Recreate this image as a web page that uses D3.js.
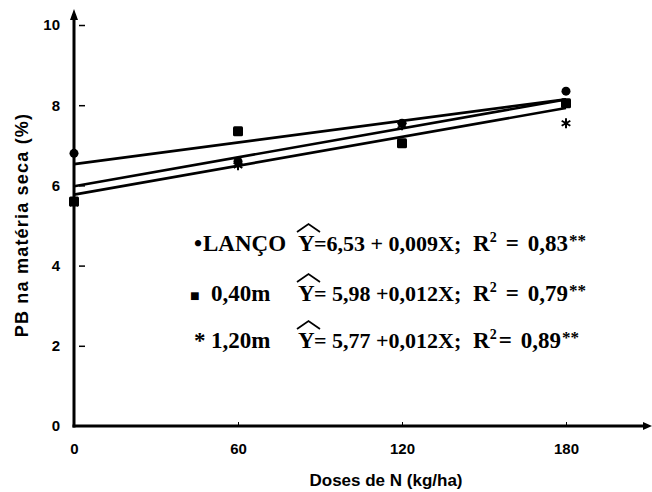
<!DOCTYPE html>
<html>
<head>
<meta charset="utf-8">
<script src="https://cdn.jsdelivr.net/npm/d3@7"></script>
<style>
  body { margin: 0; background: #fff; }
  svg { display: block; }
</style>
</head>
<body>
<svg id="chart" width="652" height="492"></svg>
<script>
// Doses de N (kg/ha) and crude protein (%) per sowing treatment
const doses = [0, 60, 120, 180];
const xTicks = [0, 60, 120, 180];
const yTicks = [0, 2, 4, 6, 8, 10];

const lanco = [6.8, 6.6, 7.55, 8.35];
const m040 = [5.6, 7.35, 7.05, 8.05];
const m120 = [5.55, 6.5, 7.5, 7.55];

// Fitted linear models: Y = a + bX
const treatments = ["LANÇO", "0,40m", "1,20m"];
const intercepts = [6.53, 5.98, 5.77];
const slopes = [0.009, 0.012, 0.012];
const eqLabels = ["=6,53 + 0,009X;", "= 5,98 +0,012X;", "= 5,77 +0,012X;"];
const r2Values = ["0,83", "0,79", "0,89"];
const legendGlyphs = ["\u2022", "\u25A0", "*"];

const svg = d3.select("#chart");
const sans = "'Liberation Sans', Arial, sans-serif";
const serif = "'Liberation Serif', 'Times New Roman', serif";

const x = d3.scaleLinear().domain([0, 180]).range([74, 566]);
const y = d3.scaleLinear().domain([0, 10]).range([426, 25]);

// y axis
const yAxis = svg.append("g")
  .attr("transform", `translate(${x(0)},0)`)
  .call(d3.axisLeft(y).tickValues(yTicks).tickSizeInner(-9).tickSizeOuter(0).tickPadding(14).tickFormat(d3.format("d")));
yAxis.select(".domain").remove();
yAxis.selectAll(".tick line").attr("x1", 5).attr("x2", 11).attr("stroke", "#000").attr("stroke-width", 1.5)
  .filter(d => d === 0).remove();
yAxis.selectAll(".tick text")
  .attr("font-family", sans).attr("font-weight", "bold").attr("font-size", 15).attr("fill", "#000");

// x axis
const xAxis = svg.append("g")
  .attr("transform", `translate(0,${y(0)})`)
  .call(d3.axisBottom(x).tickValues(xTicks).tickSizeInner(-4).tickSizeOuter(0).tickPadding(17).tickFormat(d3.format("d")));
xAxis.select(".domain").remove();
xAxis.selectAll(".tick line").attr("stroke", "#000").attr("stroke-width", 1)
  .filter(d => d === 0).remove();
xAxis.selectAll(".tick text")
  .attr("font-family", sans).attr("font-weight", "bold").attr("font-size", 15).attr("fill", "#000");

// axis lines with arrowheads
const ax = svg.append("g");
ax.append("line").attr("x1", x(0)).attr("y1", y(0) + 1.5).attr("x2", x(0)).attr("y2", 14)
  .attr("stroke", "#000").attr("stroke-width", 3);
ax.append("path").attr("d", `M${x(0)},9 L${x(0) - 4},20 L${x(0) + 4},20 Z`).attr("fill", "#000");
ax.append("line").attr("x1", x(0) - 1.5).attr("y1", y(0)).attr("x2", 645).attr("y2", y(0))
  .attr("stroke", "#000").attr("stroke-width", 3);
ax.append("path").attr("d", `M652,${y(0)} L643,${y(0) - 4} L643,${y(0) + 4} Z`).attr("fill", "#000");

// regression lines
const fitG = svg.append("g");
intercepts.forEach((a, i) => {
  fitG.append("line")
    .attr("x1", x(0)).attr("y1", y(a))
    .attr("x2", x(180)).attr("y2", y(a + slopes[i] * 180))
    .attr("stroke", "#000").attr("stroke-width", 2.6);
});

// observed points
const pts = svg.append("g");
pts.selectAll("circle").data(doses.map((d, i) => [d, lanco[i]])).join("circle")
  .attr("cx", d => x(d[0])).attr("cy", d => y(d[1])).attr("r", 4.5).attr("fill", "#000");
pts.selectAll("rect").data(doses.map((d, i) => [d, m040[i]])).join("rect")
  .attr("x", d => x(d[0]) - 5).attr("y", d => y(d[1]) - 5).attr("width", 10).attr("height", 10)
  .attr("rx", 1.5).attr("fill", "#000");
pts.selectAll("path.star").data(doses.map((d, i) => [d, m120[i]])).join("path")
  .attr("class", "star")
  .attr("transform", d => `translate(${x(d[0])},${y(d[1])})`)
  .attr("d", d3.symbol(d3.symbolAsterisk, 70))
  .attr("stroke", "#000").attr("stroke-width", 2).attr("fill", "none");

// equations legend
const legend = svg.append("g").attr("font-family", serif).attr("font-weight", "bold").attr("font-size", 23)
  .attr("fill", "#000");
const rowY = [251, 301, 348];
treatments.forEach((t, i) => {
  const by = rowY[i];
  legend.append("text").attr("x", i === 1 ? 190 : 194).attr("y", by).attr("font-size", i === 1 ? 16 : 23).text(legendGlyphs[i]);
  legend.append("text").attr("x", i === 0 ? 203 : 211).attr("y", by).text(t);
  legend.append("text").attr("x", 298).attr("y", by).text("Y");
  legend.append("path")
    .attr("d", `M297,${by - 19} L308.5,${by - 27} L320,${by - 19}`)
    .attr("fill", "none").attr("stroke", "#000").attr("stroke-width", 1.8);
  legend.append("text").attr("x", 314).attr("y", by).attr("font-size", 22).text(eqLabels[i]);
  const r2 = legend.append("text").attr("x", 473).attr("y", by);
  r2.append("tspan").text("R");
  r2.append("tspan").attr("font-size", 14).attr("dy", -9).text("2");
  r2.append("tspan").attr("dy", 9).attr("dx", i === 2 ? 2 : 9).text("=");
  r2.append("tspan").attr("dx", 9).text(r2Values[i]);
  r2.append("tspan").attr("font-size", 17).attr("dy", -5).attr("dx", 1).text("**");
});

// axis titles
svg.append("text")
  .attr("transform", `translate(28,225) rotate(-90)`)
  .attr("text-anchor", "middle")
  .attr("font-family", sans).attr("font-weight", "bold").attr("font-size", 18).attr("letter-spacing", 1.2)
  .text("PB na matéria seca (%)");
svg.append("text")
  .attr("x", 386).attr("y", 486)
  .attr("text-anchor", "middle")
  .attr("font-family", sans).attr("font-weight", "bold").attr("font-size", 17)
  .text("Doses de N (kg/ha)");
</script>
</body>
</html>
